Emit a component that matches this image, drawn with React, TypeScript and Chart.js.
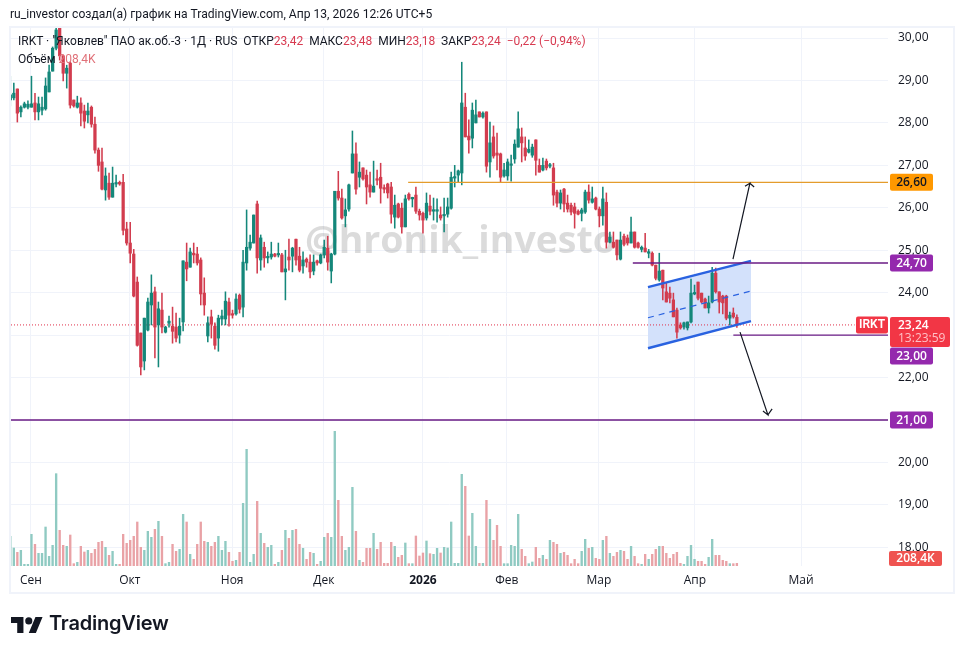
import React, { useEffect, useRef } from "react";
import { Chart, registerables } from "chart.js";

Chart.register(...registerables);

const FONT = '"Open Sans", "Noto Sans", sans-serif';
const TEXT_FONT = 'Roboto, "Noto Sans", sans-serif';

const openPrices = [
  28.54,28.59,28.80,28.26,28.37,28.37,28.37,28.47,28.26,28.30,
  28.33,28.73,29.22,29.76,30.23,29.58,29.17,29.41,28.54,28.37,
  28.47,28.28,28.19,28.37,27.97,27.36,27.08,26.42,26.58,26.25,
  26.56,26.60,26.60,25.50,25.17,24.91,24.25,23.05,22.39,23.12,
  23.71,24.02,23.24,23.59,23.07,23.28,23.21,23.19,23.00,23.31,
  24.72,24.60,24.93,24.91,24.77,23.99,22.98,23.43,23.21,22.93,
  23.38,23.38,23.78,23.50,23.50,23.94,23.66,24.70,25.05,25.17,
  26.09,24.77,25.07,24.82,24.84,24.91,24.89,24.89,24.49,24.84,
  24.86,25.26,24.86,24.63,24.79,24.72,24.51,24.75,24.70,24.89,
  25.05,24.51,24.91,26.39,26.23,25.81,25.97,26.82,27.27,26.72,
  26.94,26.77,26.54,26.37,26.68,26.72,26.46,26.56,26.49,25.78,
  26.09,25.99,25.55,26.32,26.21,26.30,25.92,25.87,25.76,26.04,
  25.92,25.92,25.83,25.81,25.85,25.99,26.70,26.77,26.82,28.37,
  27.69,27.64,28.00,28.26,28.14,28.26,27.08,27.67,27.29,27.27,
  26.75,26.75,27.00,27.15,27.43,27.67,27.41,27.31,27.24,27.60,
  27.00,26.89,27.10,26.98,26.94,26.37,26.11,26.44,26.11,26.06,
  26.02,25.92,25.87,25.90,26.37,26.13,26.23,25.97,25.81,26.13,
  25.19,25.19,25.24,24.79,25.33,25.29,25.17,25.43,25.17,25.02,
  25.05,24.93,24.93,24.65,24.30,24.53,24.02,23.99,23.83,23.59,
  23.24,23.19,23.17,23.31,23.97,24.25,23.99,23.85,23.64,23.78,
  24.46,24.02,23.92,23.92,23.40,23.52,23.42,
];

const highPrices = [
  29.10,28.94,28.80,28.40,28.49,28.52,29.10,28.70,28.61,28.61,
  29.06,29.36,29.79,30.26,30.26,29.60,29.36,29.44,28.54,28.63,
  28.59,28.42,28.47,28.40,28.14,27.41,27.41,26.94,26.82,26.96,
  26.77,26.63,26.79,25.66,25.66,25.02,24.37,23.05,23.40,23.87,
  24.42,24.13,23.78,23.99,23.21,23.45,23.66,23.52,23.40,24.75,
  25.17,25.05,25.17,25.07,24.82,24.35,23.43,23.59,23.29,23.47,
  23.59,24.02,23.87,23.59,23.97,23.97,25.00,25.95,25.36,25.83,
  26.16,25.36,25.19,24.96,25.19,24.93,25.17,24.93,25.00,25.26,
  25.07,25.26,25.07,24.96,24.82,24.89,24.89,24.77,24.91,25.24,
  25.33,24.93,26.39,26.86,26.44,26.21,26.56,27.81,27.53,27.08,
  26.94,26.89,26.84,27.10,26.89,27.05,26.54,26.58,26.60,26.30,
  26.11,26.11,26.30,26.35,26.25,26.49,25.97,25.90,26.35,26.30,
  26.23,26.21,26.02,26.23,26.23,26.84,27.00,26.89,29.43,28.70,
  28.07,28.47,28.54,28.26,28.26,28.26,28.02,27.93,27.76,27.29,
  27.05,27.15,27.24,27.60,28.26,27.88,27.67,27.60,27.50,27.60,
  27.15,27.17,27.15,27.05,27.05,26.42,26.42,26.46,26.30,26.11,
  26.11,25.95,25.99,26.42,26.54,26.49,26.25,26.02,26.49,26.35,
  25.43,25.43,25.24,25.43,25.38,25.36,25.78,25.43,25.19,25.10,
  25.40,25.02,24.96,24.65,24.93,24.53,24.23,24.13,23.99,23.64,
  23.29,23.31,23.31,24.32,24.18,24.25,23.99,23.87,23.92,24.60,
  24.58,24.02,23.94,23.94,23.54,23.64,23.48,
];

const lowPrices = [
  28.40,28.54,28.02,28.14,28.35,28.33,28.37,28.07,28.07,28.19,
  28.30,28.73,29.22,29.72,29.48,28.99,28.82,28.35,28.37,28.35,
  27.93,27.88,28.00,27.90,27.29,26.86,26.42,26.18,26.20,26.25,
  26.49,26.53,25.36,25.12,24.70,23.90,22.74,22.06,22.18,23.10,
  23.24,22.46,22.25,23.05,23.05,23.19,22.81,22.84,22.81,23.10,
  24.28,24.60,24.70,24.65,23.71,23.47,22.84,22.93,22.67,22.62,
  23.24,23.24,23.21,23.40,23.47,23.52,23.43,24.53,25.00,25.17,
  24.46,24.53,24.60,24.70,24.79,24.84,24.84,24.49,23.83,24.53,
  24.49,24.65,24.49,24.46,24.60,24.35,24.42,24.65,24.68,24.82,
  24.53,24.23,24.89,26.18,25.73,25.55,25.92,26.82,26.32,26.49,
  26.65,26.09,26.25,26.37,26.54,26.11,26.35,26.23,25.64,25.52,
  25.76,25.40,25.55,26.18,26.02,25.87,25.71,25.40,25.71,25.83,
  25.71,25.66,25.71,25.43,25.78,25.97,26.49,26.60,26.54,27.67,
  27.29,27.41,28.00,28.14,28.11,26.84,26.72,27.17,26.89,26.60,
  26.72,26.65,26.63,27.05,27.43,27.08,27.12,27.29,27.19,26.77,
  26.84,26.87,26.89,26.94,26.06,26.02,25.97,25.90,25.90,25.83,
  25.52,25.83,25.69,25.87,26.11,26.11,25.95,25.55,25.59,25.05,
  25.17,25.05,24.77,24.77,25.10,25.12,25.17,25.05,25.05,24.96,
  24.96,24.82,24.63,24.30,24.27,23.83,23.78,23.76,23.43,22.93,
  23.14,23.14,23.12,23.29,23.95,23.83,23.76,23.64,23.52,23.76,
  23.99,23.52,23.50,23.36,23.24,23.40,23.18,
];

const closePrices = [
  28.66,28.70,28.23,28.37,28.45,28.44,28.45,28.26,28.45,28.37,
  28.87,29.20,29.76,30.19,29.58,29.17,29.29,28.42,28.40,28.47,
  28.23,28.04,28.28,27.97,27.36,27.00,26.44,26.75,26.25,26.58,
  26.58,26.56,25.47,25.17,24.93,23.92,22.76,22.25,23.40,23.78,
  23.99,23.19,23.62,23.19,23.19,23.33,23.09,22.93,23.21,24.75,
  24.56,24.96,24.89,24.70,23.97,23.71,23.29,23.26,22.76,23.40,
  23.45,23.80,23.47,23.47,23.85,23.61,24.72,25.07,25.19,25.83,
  24.82,25.29,24.82,24.84,24.91,24.86,24.91,24.49,24.56,24.77,
  25.05,24.77,24.53,24.77,24.72,24.49,24.72,24.70,24.89,25.07,
  24.72,24.91,26.39,26.23,25.76,25.95,26.54,27.27,26.44,26.84,
  26.68,26.49,26.37,26.51,26.65,26.46,26.44,26.35,25.85,26.06,
  25.78,25.55,26.21,26.21,26.23,25.92,25.83,25.71,26.11,25.92,
  25.95,25.95,25.76,25.83,26.02,26.72,26.72,26.87,28.47,27.67,
  27.60,28.30,28.19,28.14,28.23,26.98,27.53,27.22,27.24,26.72,
  26.89,27.08,27.03,27.50,27.86,27.53,27.22,27.38,27.43,27.12,
  26.84,27.00,26.94,27.00,26.30,26.11,26.35,26.09,25.97,25.90,
  25.87,25.85,25.95,26.37,26.18,26.21,25.97,25.81,26.21,25.19,
  25.31,25.07,24.89,25.24,25.14,25.17,25.43,25.07,25.07,25.07,
  24.96,24.96,24.65,24.34,24.51,24.11,23.78,23.87,23.43,23.07,
  23.17,23.29,23.31,23.99,23.99,23.87,23.78,23.64,23.76,24.46,
  24.02,23.78,23.76,23.40,23.47,23.43,23.24,
];

// Volume, thousands of shares
const volumes = [
  2314,1404,1066,1222,130,130,2470,1690,988,988,
  3042,754,1612,7202,2782,1612,1534,2418,182,286,
  1534,1092,1222,988,1300,1846,1924,1456,832,1144,
  130,130,2470,1768,2002,2314,3432,1456,1222,2704,
  2236,2860,3484,2314,182,286,1690,1144,1300,4030,
  3432,910,520,1690,3432,1924,1846,1534,1846,2314,
  1222,1924,1066,364,442,1066,4888,9100,286,910,
  5044,2548,1768,1456,1612,130,286,1222,2782,2158,
  2782,2860,1690,1378,520,1066,988,130,364,2236,
  2548,2236,10504,5122,2314,1222,1456,6136,2704,442,
  286,1378,1378,2548,1300,1846,208,208,1846,1534,
  676,832,1794,182,182,2340,780,1014,1950,962,
  910,1378,1014,1456,1404,3432,208,208,7150,6214,
  2340,4108,1534,208,208,5122,3640,2002,3172,1534,
  182,182,1612,1534,4030,1300,754,182,312,1456,
  598,832,520,2002,1846,1690,988,1066,832,182,
  520,182,1144,2080,1378,1456,598,520,2002,2314,
  988,754,1066,1222,1144,520,1534,754,182,130,
  910,520,910,1300,1534,1534,988,598,910,1066,
  208,130,754,1612,520,364,364,130,676,2080,
  832,832,442,364,182,182,208.4,
];

const priceTicks = [18, 19, 20, 21, 22, 23, 24, 25, 26, 27, 28, 29, 30];
const monthPositions = [5.87, 33.9, 62.9, 88.9, 117, 140.8, 166.9, 194.1, 224.2];
const monthLabels = ["Сен", "Окт", "Ноя", "Дек", "2026", "Фев", "Мар", "Апр", "Май"];

const X_MIN = 0.2;
const X_MAX = 248.85;
const Y_MIN = 17.56;
const Y_MAX = 30.26;
const VOL_MAX = 42042;

const levelOrange = { from: 112.8, price: 26.6 };
const levelTop = { from: 176.5, price: 24.7 };
const levelLow = { from: 205, price: 23.0 };
const levelBottom = { from: 0.2, price: 21.0 };
const lastPrice = 23.24;

const channelUpper = [{ x: 180.8, y: 24.13 }, { x: 210, y: 24.75 }];
const channelLower = [{ x: 180.8, y: 22.69 }, { x: 210, y: 23.33 }];
const channelMiddle = [{ x: 180.8, y: 23.41 }, { x: 210, y: 24.04 }];

const arrowUp = [
  { x: 204.9, y: 24.79 }, { x: 209.7, y: 26.58 }, { x: 208.3, y: 26.51 },
  { x: 209.7, y: 26.58 }, { x: 210.9, y: 26.49 },
];
const arrowDown = [
  { x: 206.9, y: 23.07 }, { x: 214.8, y: 21.12 }, { x: 213.4, y: 21.21 },
  { x: 214.8, y: 21.12 }, { x: 216.0, y: 21.26 },
];

const GREEN = "#14877a";
const RED = "#d23c4e";
const VOL_GREEN = "#8fcac2";
const VOL_RED = "#e9a2a6";
const PURPLE = "#6a1b84";
const ORANGE = "#e49c2c";
const TAG_PURPLE = "#9429ad";
const TAG_RED = "#f23645";

const bars = openPrices.map((_, i) => i);
const isUp = bars.map((i) => closePrices[i] >= openPrices[i]);

const fmt = (v: number) => v.toFixed(2).replace(".", ",");

const overlayPlugin = {
  id: "overlay",
  beforeDatasetsDraw(chart: any) {
    const { ctx, chartArea } = chart;
    ctx.save();
    ctx.beginPath();
    ctx.rect(chartArea.left, chartArea.top, chartArea.right - chartArea.left, chartArea.bottom - chartArea.top);
    ctx.clip();
    ctx.font = `700 37.5px ${FONT}`;
    ctx.fillStyle = "rgba(125,125,125,0.28)";
    ctx.textBaseline = "alphabetic";
    ctx.textAlign = "left";
    ctx.fillText("@hronik_investo", 305, 253);
    ctx.restore();
  },
  afterDraw(chart: any) {
    const { ctx, scales } = chart;
    const y = scales.y;
    const tag = (cy: number, left: number, right: number, h: number, bg: string, fg: string, text: string) => {
      ctx.fillStyle = bg;
      ctx.beginPath();
      ctx.roundRect(left, cy - h / 2, right - left, h, 2);
      ctx.fill();
      ctx.fillStyle = fg;
      ctx.textAlign = "center";
      ctx.textBaseline = "middle";
      ctx.fillText(text, (left + right) / 2, cy + 0.5);
    };
    ctx.save();
    ctx.font = `600 12px ${FONT}`;
    tag(y.getPixelForValue(levelOrange.price), 890, 933, 17, "#ff9800", "#131722", fmt(levelOrange.price));
    tag(y.getPixelForValue(levelTop.price), 890, 933, 17, TAG_PURPLE, "#ffffff", fmt(levelTop.price));
    // 23,00 sits below the last-price box, as the two would collide
    tag(y.getPixelForValue(levelLow.price) + 21, 890, 933, 17, TAG_PURPLE, "#ffffff", fmt(levelLow.price));
    tag(y.getPixelForValue(levelBottom.price), 890, 933, 17, TAG_PURPLE, "#ffffff", fmt(levelBottom.price));

    const py = y.getPixelForValue(lastPrice);
    ctx.fillStyle = TAG_RED;
    ctx.beginPath();
    ctx.roundRect(890, py - 8, 60, 30, 2);
    ctx.fill();
    ctx.fillStyle = "#ffffff";
    ctx.textAlign = "left";
    ctx.textBaseline = "middle";
    ctx.fillText(fmt(lastPrice), 898, py + 0.5);
    ctx.fillStyle = "#ffc0c6";
    ctx.font = `400 12px ${FONT}`;
    ctx.fillText("13:23:59", 898, py + 14);
    ctx.font = `600 12px ${TEXT_FONT}`;
    tag(py, 856, 888, 17, TAG_RED, "#ffffff", "IRKT");
    ctx.font = `600 12px ${FONT}`;
    tag(558.5, 889, 942, 15, "#ef5350", "#ffffff", "208,4K");
    ctx.restore();
  },
};

export default function App() {
  const ref = useRef<HTMLCanvasElement | null>(null);

  useEffect(() => {
    if (!ref.current) return;
    const hline = (from: number, price: number, color: string) => ({
      type: "line" as const,
      data: [{ x: from, y: price }, { x: X_MAX, y: price }],
      borderColor: color,
      borderWidth: 1.4,
      pointRadius: 0,
      order: 1,
      xAxisID: "x",
      yAxisID: "y",
    });
    const edge = (pts: any[], extra: any) => ({
      type: "line" as const,
      data: pts,
      borderColor: "#2962e0",
      borderWidth: 2.5,
      pointRadius: 0,
      order: 1,
      xAxisID: "x",
      yAxisID: "y",
      ...extra,
    });
    const arrow = (pts: any[]) => ({
      type: "line" as const,
      data: pts,
      borderColor: "#131722",
      borderWidth: 1.2,
      pointRadius: 0,
      tension: 0,
      order: 0,
      xAxisID: "x",
      yAxisID: "y",
    });

    const chart = new Chart(ref.current, {
      type: "bar",
      data: {
        datasets: [
          {
            type: "line",
            data: channelUpper,
            borderColor: "rgba(0,0,0,0)",
            borderWidth: 0,
            backgroundColor: "#d3e1fb",
            fill: "+1",
            pointRadius: 0,
            order: 7,
            xAxisID: "x",
            yAxisID: "y",
          },
          {
            type: "line",
            data: channelLower,
            borderColor: "rgba(0,0,0,0)",
            borderWidth: 0,
            pointRadius: 0,
            order: 7,
            xAxisID: "x",
            yAxisID: "y",
          },
          {
            label: "volume",
            data: bars.map((i) => ({ x: i, y: volumes[i] })),
            backgroundColor: bars.map((i) => (isUp[i] ? VOL_GREEN : VOL_RED)),
            barThickness: 1.7,
            grouped: false,
            minBarLength: 1,
            order: 6,
            xAxisID: "x",
            yAxisID: "y1",
          },
          {
            type: "line",
            data: [{ x: X_MIN, y: lastPrice }, { x: 239.4, y: lastPrice }],
            borderColor: "#e0304a",
            borderWidth: 1,
            borderDash: [1, 2],
            pointRadius: 0,
            order: 5,
            xAxisID: "x",
            yAxisID: "y",
          },
          {
            label: "wick",
            data: bars.map((i) => ({ x: i, y: [lowPrices[i], highPrices[i]] })),
            backgroundColor: bars.map((i) => (isUp[i] ? GREEN : RED)),
            barThickness: 0.9,
            grouped: false,
            order: 4,
            xAxisID: "x",
            yAxisID: "y",
          },
          {
            label: "body",
            data: bars.map((i) => ({ x: i, y: [openPrices[i], closePrices[i]] })),
            backgroundColor: bars.map((i) => (isUp[i] ? GREEN : RED)),
            barThickness: 2.6,
            grouped: false,
            minBarLength: 1.5,
            order: 3,
            xAxisID: "x",
            yAxisID: "y",
          },
          hline(levelOrange.from, levelOrange.price, ORANGE),
          hline(levelTop.from, levelTop.price, PURPLE),
          hline(levelLow.from, levelLow.price, PURPLE),
          hline(levelBottom.from, levelBottom.price, PURPLE),
          edge(channelUpper, {}),
          edge(channelLower, {}),
          edge(channelMiddle, { borderWidth: 1.2, borderDash: [6, 5] }),
          arrow(arrowUp),
          arrow(arrowDown),
        ] as any,
      },
      options: {
        animation: false,
        responsive: false,
        devicePixelRatio: 1,
        layout: { padding: { left: 11, top: 27, right: 10, bottom: 60 } },
        plugins: { legend: { display: false }, tooltip: { enabled: false } },
        scales: {
          x: {
            type: "linear",
            position: "bottom",
            min: X_MIN,
            max: X_MAX,
            offset: false,
            border: { display: false },
            grid: { color: "#f0f3fa", offset: false, drawTicks: false },
            afterBuildTicks: (scale: any) => {
              scale.ticks = monthPositions.map((value) => ({ value }));
            },
            afterFit: (scale: any) => {
              scale.height = 28;
            },
            ticks: {
              autoSkip: false,
              maxRotation: 0,
              padding: 7,
              color: "#131722",
              font: (c: any) => ({
                family: FONT,
                size: 12,
                weight: c.tick && monthLabels[monthPositions.indexOf(c.tick.value)] === "2026" ? "bold" : "normal",
              }),
              callback: (value: any) => monthLabels[monthPositions.indexOf(value)],
            },
          },
          y: {
            type: "linear",
            position: "right",
            min: Y_MIN,
            max: Y_MAX,
            border: { display: false },
            grid: { color: "#f0f3fa", drawTicks: false },
            afterBuildTicks: (scale: any) => {
              scale.ticks = priceTicks.map((value) => ({ value }));
            },
            afterFit: (scale: any) => {
              scale.width = 67;
            },
            ticks: {
              padding: 10,
              color: "#131722",
              font: { family: FONT, size: 12 },
              callback: (value: any) => fmt(Number(value)),
            },
          },
          y1: {
            type: "linear",
            display: false,
            position: "right",
            min: 0,
            max: VOL_MAX,
          },
        },
      } as any,
      plugins: [overlayPlugin] as any,
    });
    return () => chart.destroy();
  }, []);

  const red = { color: "#d83a50" };
  return (
    <div
      style={{
        position: "absolute",
        left: 0,
        top: 0,
        width: 965,
        height: 654,
        background: "#ffffff",
        overflow: "hidden",
        fontFamily: TEXT_FONT,
        color: "#131722",
      }}
    >
      <canvas ref={ref} width={965} height={654} style={{ position: "absolute", left: 0, top: 0 }} />
      <div
        style={{
          position: "absolute",
          left: 9,
          top: 26,
          width: 946,
          height: 568,
          boxSizing: "border-box",
          border: "2px solid #f0f3fa",
          pointerEvents: "none",
        }}
      />
      <div style={{ position: "absolute", left: 10, top: 7, fontSize: 12.1, whiteSpace: "nowrap" }}>
        ru_investor создал(а) график на TradingView.com, Апр 13, 2026 12:26 UTC+5
      </div>
      <div style={{ position: "absolute", left: 18, top: 34, fontSize: 12, whiteSpace: "pre" }}>
        {'IRKT · "Яковлев" ПАО ак.об.-3 · 1Д · RUS  ОТКР'}
        <span style={red}>23,42</span>
        {"  МАКС"}
        <span style={red}>23,48</span>
        {"  МИН"}
        <span style={red}>23,18</span>
        {"  ЗАКР"}
        <span style={red}>23,24</span>
        {"  "}
        <span style={red}>−0,22 (−0,94%)</span>
      </div>
      <div style={{ position: "absolute", left: 18, top: 52, fontSize: 12, whiteSpace: "pre" }}>
        Объём <span style={{ color: "#e07078" }}>208,4K</span>
      </div>
      <svg
        style={{ position: "absolute", left: 11, top: 613 }}
        width={32}
        height={22}
        viewBox="0 0 36 24"
        fill="#131722"
      >
        <path d="M14 22H7V11H0V4h14v18zM28 22h-8l7.5-18h8L28 22z" />
        <circle cx="20" cy="8.5" r="4" />
      </svg>
      <div
        style={{
          position: "absolute",
          left: 49,
          top: 611,
          fontSize: 20,
          fontWeight: 600,
          fontFamily: "Inter, sans-serif",
          letterSpacing: -0.2,
          whiteSpace: "nowrap",
        }}
      >
        TradingView
      </div>
    </div>
  );
}
